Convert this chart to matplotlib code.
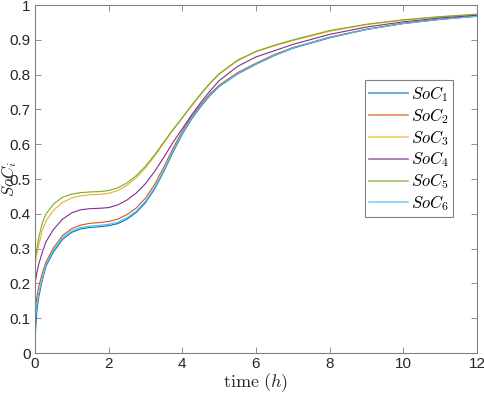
import numpy as np
import matplotlib
matplotlib.use('Agg')
import matplotlib.pyplot as plt

plt.rcParams['font.family'] = ['Liberation Sans', 'DejaVu Sans']
plt.rcParams['mathtext.fontset'] = 'cm'

# time samples (h) and SoC values
t = [0, 0.05, 0.1, 0.2, 0.3, 0.5, 0.75, 1.0, 1.25, 1.5, 1.75, 2.0, 2.25, 2.5,
     2.75, 3.0, 3.25, 3.5, 3.75, 4.0, 4.25, 4.5, 4.75, 5.0, 5.5, 6.0, 6.5,
     7.0, 8.0, 9.0, 10.0, 11.0, 12.0]

soc1 = [0.04, 0.12, 0.16, 0.21, 0.25, 0.29, 0.327, 0.347, 0.357, 0.361, 0.363,
        0.366, 0.372, 0.385, 0.404, 0.432, 0.472, 0.522, 0.578, 0.629, 0.672,
        0.708, 0.74, 0.766, 0.802, 0.83, 0.855, 0.876, 0.906, 0.93, 0.947,
        0.959, 0.968]
soc2 = [0.12, 0.16, 0.19, 0.23, 0.262, 0.302, 0.338, 0.358, 0.368, 0.373, 0.375,
        0.378, 0.385, 0.398, 0.417, 0.445, 0.485, 0.535, 0.589, 0.638, 0.679,
        0.714, 0.745, 0.77, 0.806, 0.833, 0.858, 0.878, 0.908, 0.931, 0.948,
        0.96, 0.969]
soc3 = [0.25, 0.285, 0.31, 0.352, 0.38, 0.41, 0.433, 0.446, 0.452, 0.455, 0.456,
        0.459, 0.467, 0.482, 0.504, 0.532, 0.566, 0.604, 0.641, 0.675, 0.71,
        0.743, 0.774, 0.801, 0.84, 0.866, 0.883, 0.898, 0.925, 0.944, 0.957,
        0.966, 0.973]
soc4 = [0.2, 0.23, 0.255, 0.29, 0.32, 0.355, 0.385, 0.403, 0.412, 0.415, 0.416,
        0.418, 0.426, 0.44, 0.46, 0.487, 0.522, 0.563, 0.606, 0.645, 0.684,
        0.72, 0.753, 0.783, 0.824, 0.851, 0.869, 0.887, 0.916, 0.937, 0.952,
        0.963, 0.971]
soc5 = [0.265, 0.3, 0.33, 0.375, 0.4, 0.428, 0.448, 0.457, 0.461, 0.463, 0.464,
        0.467, 0.475, 0.489, 0.51, 0.537, 0.57, 0.607, 0.643, 0.677, 0.712,
        0.745, 0.776, 0.803, 0.842, 0.867, 0.885, 0.9, 0.927, 0.945, 0.958,
        0.967, 0.974]
soc6 = [0.08, 0.14, 0.17, 0.215, 0.255, 0.295, 0.332, 0.352, 0.361, 0.365, 0.367,
        0.37, 0.376, 0.389, 0.408, 0.436, 0.476, 0.526, 0.582, 0.632, 0.674,
        0.71, 0.742, 0.767, 0.803, 0.831, 0.856, 0.877, 0.907, 0.93, 0.947,
        0.959, 0.968]

series = [soc1, soc2, soc3, soc4, soc5, soc6]
labels = [r'$SoC_%d$' % (i + 1) for i in range(6)]
colors = ['#0072BD', '#D95319', '#EDB120', '#7E2F8E', '#77AC30', '#4DBEEE']

fig = plt.figure(figsize=(4.84, 3.95), dpi=100)
ax = fig.add_axes([0.0723, 0.1063, 0.9132, 0.8807])

for s, lab, c in zip(series, labels, colors):
    ax.plot(t, s, color=c, lw=0.8, label=lab)

ax.set_xlim(0, 12)
ax.set_ylim(0, 1)
ax.set_xticks(np.arange(0, 13, 2))
ax.set_yticks(np.arange(0, 1.01, 0.1))
ax.set_yticklabels(['0', '0.1', '0.2', '0.3', '0.4', '0.5', '0.6', '0.7',
                    '0.8', '0.9', '1'])

grey = '#262626'
for sp in ax.spines.values():
    sp.set_color('#808080')
    sp.set_linewidth(0.8)
ax.tick_params(direction='in', top=True, right=True, length=4, width=0.6,
               colors='#808080', labelcolor=grey, labelsize=11, pad=3)

ax.set_xlabel(r'$\mathrm{time}\ (h)$', fontsize=13, color=grey, labelpad=0)
ax.set_ylabel(r'$SoC_i$', fontsize=12, color=grey)
ax.yaxis.set_label_coords(-0.036, 0.5)

leg = ax.legend(loc='upper left', bbox_to_anchor=(0.747, 0.785), fontsize=12,
                frameon=True, fancybox=False, framealpha=1, borderpad=0.25,
                labelspacing=0.12, handlelength=2.3, handletextpad=0.2,
                borderaxespad=0)
leg.get_frame().set_edgecolor('#808080')
leg.get_frame().set_linewidth(0.8)
for line in leg.get_lines():
    line.set_linewidth(1.2)
    line.set_alpha(0.7)

fig.savefig('out.png', dpi=100)
